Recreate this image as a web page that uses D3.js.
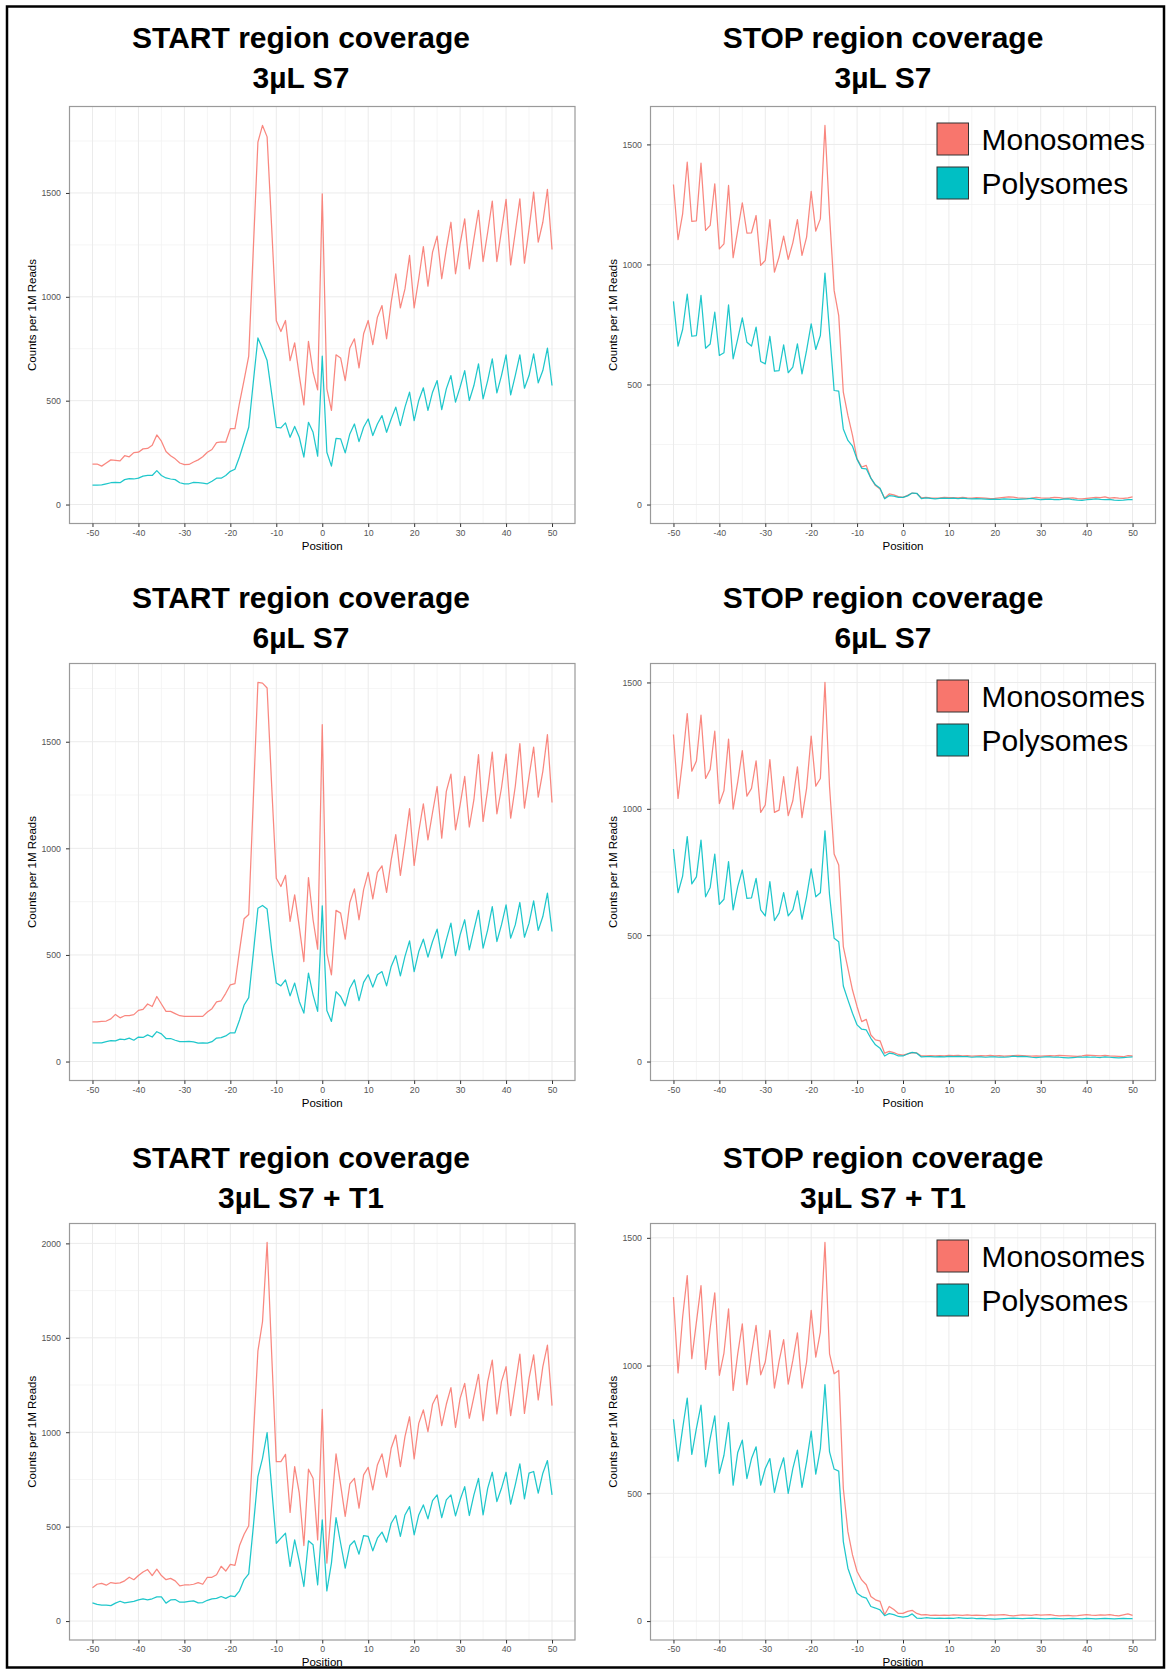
<!DOCTYPE html>
<html><head><meta charset="utf-8">
<script src="https://cdn.jsdelivr.net/npm/d3@7"></script>
<style>
body{margin:0;background:#fff}
svg{display:block}
text{font-family:"Liberation Sans",Arial,Helvetica,sans-serif}
</style>
</head><body>
<svg id="chart" width="1166" height="1670"></svg>
<script>
// ---------------- data ----------------
const positions = d3.range(-50, 51);           // nucleotide position -50..50
const xTickValues = [-50, -40, -30, -20, -10, 0, 10, 20, 30, 40, 50];
const xMinorValues = [-45, -35, -25, -15, -5, 5, 15, 25, 35, 45];
const yTickValues = [0, 500, 1000, 1500, 2000];
const yMinorValues = [250, 750, 1250, 1750];
const seriesNames = ["Monosomes", "Polysomes"];
const seriesColors = ["#F8766D", "#00BFC4"];

// START 3uL S7
const start3Mono = [
 195,195,185,200,215,213,210,235,230,250,
 252,268,270,285,335,305,255,235,220,200,
 192,193,205,215,230,252,265,298,302,300,
 365,365,490,600,715,1230,1745,1825,1770,1330,
 885,833,886,693,778,621,480,786,637,552,
 1496,557,453,721,706,597,754,798,658,822,
 886,770,902,958,798,974,1111,947,1038,1199,
 947,1087,1242,1051,1215,1292,1087,1231,1359,1111,
 1255,1375,1135,1279,1416,1170,1311,1461,1170,1319,
 1469,1154,1311,1472,1162,1327,1504,1263,1359,1517,1228];
const start3Poly = [
 93,93,95,100,105,107,105,120,125,123,
 127,137,140,140,163,140,128,123,120,105,
 100,100,107,105,103,100,112,127,127,140,
 160,170,230,300,372,590,802,750,693,533,
 372,369,393,324,376,324,228,396,348,233,
 714,252,185,319,316,249,340,388,303,372,
 412,332,388,428,348,412,469,380,469,541,
 404,501,562,453,541,597,457,557,621,493,
 565,645,501,573,677,509,597,701,538,621,
 721,528,621,721,560,621,725,586,645,753,573];

// STOP 3uL S7
const stop3Mono = [
 1333,1103,1211,1426,1179,1182,1422,1142,1163,1336,
 1065,1086,1329,1028,1142,1257,1131,1132,1204,996,
 1017,1187,968,1031,1118,1021,1090,1187,1038,1114,
 1304,1139,1190,1579,1204,892,787,468,371,288,
 190,156,163,110,79,65,26,44,40,33,
 30,38,48,46,28,30,28,27,28,30,
 29,29,28,30,28,27,29,28,27,25,
 26,28,30,32,31,28,27,26,27,30,
 28,27,28,30,29,26,27,28,25,24,
 26,28,30,29,32,27,29,27,26,28,32];
const stop3Poly = [
 846,660,729,876,701,704,871,651,669,801,
 621,632,832,607,690,778,676,660,739,596,
 586,701,556,558,665,549,572,669,544,642,
 753,646,704,964,718,475,472,315,267,243,
 188,151,149,110,82,68,24,37,35,30,
 30,36,48,47,25,28,26,24,26,27,
 26,27,25,27,25,24,25,24,23,22,
 23,22,24,23,22,22,23,24,26,23,
 20,22,23,21,20,23,24,20,18,17,
 20,22,24,22,21,22,18,17,18,20,21];

// START 6uL S7
const start6Mono = [
 186,186,188,190,200,221,205,215,215,220,
 240,245,270,258,305,270,235,235,225,215,
 212,212,212,212,212,232,248,280,285,320,
 360,365,520,670,690,1230,1778,1775,1752,1290,
 860,821,873,657,782,633,469,863,665,527,
 1580,508,407,709,696,574,746,810,665,806,
 887,763,887,918,793,946,1064,873,1024,1186,
 920,1079,1209,1040,1168,1290,1048,1267,1348,1087,
 1204,1337,1100,1228,1439,1126,1275,1451,1162,1283,
 1442,1142,1290,1491,1189,1337,1475,1240,1361,1533,1215];
const start6Poly = [
 88,88,88,93,98,97,105,103,110,100,
 115,113,125,115,140,130,108,108,100,93,
 93,95,92,86,88,86,93,110,112,120,
 135,135,195,265,300,508,719,732,715,524,
 368,355,383,308,368,282,227,415,313,235,
 730,239,188,328,305,261,344,383,286,371,
 407,349,407,422,355,446,497,402,493,566,
 422,516,574,490,563,621,485,571,649,497,
 594,665,524,618,709,532,618,727,563,641,
 735,579,641,746,583,649,754,615,680,790,610];

// STOP 6uL S7
const stop6Mono = [
 1294,1041,1193,1377,1149,1189,1371,1120,1156,1307,
 1021,1072,1276,999,1107,1230,1050,1081,1190,986,
 1015,1195,986,995,1127,973,1032,1166,965,1081,
 1288,1090,1120,1500,1087,821,778,455,369,283,
 217,158,167,105,86,82,33,40,35,28,
 25,30,35,34,22,22,23,22,23,22,
 24,23,24,22,23,21,22,23,22,24,
 22,23,21,22,23,24,23,22,21,22,
 21,22,23,22,24,23,22,21,20,22,
 25,24,23,22,24,22,21,20,19,23,22];
const stop6Poly = [
 841,668,734,890,703,731,876,652,689,821,
 622,642,791,600,692,758,646,648,725,600,
 576,712,558,587,668,576,600,675,563,652,
 762,652,668,913,659,488,474,299,244,191,
 145,128,125,92,66,53,22,33,30,22,
 22,30,36,33,18,19,19,18,19,18,
 20,19,20,19,19,17,18,18,17,18,
 18,17,17,18,21,19,20,19,17,16,
 17,18,18,17,17,16,15,16,17,17,
 18,17,17,16,18,17,16,15,16,17,18];

// START 3uL S7 + T1
const startT1Mono = [
 176,195,200,190,204,200,202,213,232,219,
 241,260,273,241,275,241,219,226,213,186,
 191,191,195,204,195,232,232,245,290,265,
 300,295,400,460,505,970,1430,1585,2005,1410,
 844,844,883,575,818,677,400,804,756,430,
 1121,307,598,885,721,554,726,756,598,774,
 814,695,827,885,762,915,985,818,977,1082,
 859,1047,1118,1003,1148,1197,1035,1148,1236,1026,
 1179,1259,1074,1188,1306,1061,1268,1382,1097,1268,
 1347,1088,1250,1414,1100,1285,1409,1171,1347,1461,1141];
const startT1Poly = [
 96,88,85,85,82,95,105,96,100,104,
 112,118,112,118,128,128,95,112,114,100,
 100,104,107,96,98,110,118,120,130,120,
 133,130,160,220,250,500,765,862,998,703,
 412,439,465,289,430,316,183,425,404,192,
 536,160,307,548,412,280,400,425,354,453,
 448,372,439,471,418,518,559,448,562,606,
 457,562,615,541,638,668,548,642,668,557,
 642,712,559,668,756,562,703,788,633,703,
 788,619,721,832,647,783,792,677,783,850,668];

// STOP 3uL S7 + T1
const stopT1Mono = [
 1268,971,1190,1352,1027,1170,1313,985,1147,1285,
 962,1049,1222,903,1046,1163,925,1046,1157,964,
 1014,1138,912,1016,1102,927,1020,1128,912,1014,
 1216,1033,1131,1482,1046,968,981,519,350,259,
 194,161,142,96,83,77,25,57,45,30,
 30,38,42,30,24,25,22,23,22,23,
 22,24,23,22,24,22,23,22,21,24,
 23,24,25,22,20,22,24,23,22,25,
 23,24,25,22,20,21,22,20,21,23,
 25,23,22,24,23,25,22,20,24,28,22];
const stopT1Poly = [
 790,626,754,873,652,754,845,604,715,803,
 578,649,777,532,660,708,558,636,682,532,
 597,636,504,584,639,500,597,669,523,623,
 743,575,675,925,662,595,587,311,207,155,
 109,96,90,57,51,44,21,29,25,18,
 15,18,28,12,11,13,12,11,12,11,
 12,11,13,12,11,12,10,11,10,9,
 8,9,10,11,12,11,10,11,12,11,
 10,9,10,11,10,9,10,11,10,9,
 11,10,9,10,11,10,9,10,11,10,10];

const panels = [
  {title: ["START region coverage", "3µL S7"],      series: [start3Mono, start3Poly],   col: 0, row: 0, legend: false},
  {title: ["STOP region coverage",  "3µL S7"],      series: [stop3Mono, stop3Poly],     col: 1, row: 0, legend: true},
  {title: ["START region coverage", "6µL S7"],      series: [start6Mono, start6Poly],   col: 0, row: 1, legend: false},
  {title: ["STOP region coverage",  "6µL S7"],      series: [stop6Mono, stop6Poly],     col: 1, row: 1, legend: true},
  {title: ["START region coverage", "3µL S7 + T1"], series: [startT1Mono, startT1Poly], col: 0, row: 2, legend: false},
  {title: ["STOP region coverage",  "3µL S7 + T1"], series: [stopT1Mono, stopT1Poly],   col: 1, row: 2, legend: true}
];

// ---------------- layout ----------------
const colX = [[69.5, 575], [650.5, 1155.5]];
const rowY = [[106.5, 523.5], [663.5, 1080.5], [1223.5, 1640]];
const titleBase = [[48, 87.5], [608, 647.5], [1167.5, 1208]];
const titleCx = [301, 883];

const svg = d3.select("#chart");
svg.append("rect").attr("width", 1166).attr("height", 1670).attr("fill", "#fff");

panels.forEach(p => {
  const [x0, x1] = colX[p.col];
  const [y0, y1] = rowY[p.row];
  const maxV = d3.max(p.series.flat());
  const x = d3.scaleLinear().domain([-55, 55]).range([x0, x1]);
  const y = d3.scaleLinear().domain([-0.05 * maxV, 1.05 * maxV]).range([y1, y0]);
  const g = svg.append("g");

  const yT = yTickValues.filter(v => v <= y.domain()[1]);
  const yM = yMinorValues.filter(v => v <= y.domain()[1]);

  // grid
  g.selectAll(".xm").data(xMinorValues).join("line")
    .attr("x1", d => x(d)).attr("x2", d => x(d)).attr("y1", y0).attr("y2", y1)
    .attr("stroke", "#F2F2F2").attr("stroke-width", 0.8);
  g.selectAll(".ym").data(yM).join("line")
    .attr("x1", x0).attr("x2", x1).attr("y1", d => y(d)).attr("y2", d => y(d))
    .attr("stroke", "#F2F2F2").attr("stroke-width", 0.8);
  g.selectAll(".xg").data(xTickValues).join("line")
    .attr("x1", d => x(d)).attr("x2", d => x(d)).attr("y1", y0).attr("y2", y1)
    .attr("stroke", "#EBEBEB").attr("stroke-width", 1);
  g.selectAll(".yg").data(yT).join("line")
    .attr("x1", x0).attr("x2", x1).attr("y1", d => y(d)).attr("y2", d => y(d))
    .attr("stroke", "#EBEBEB").attr("stroke-width", 1);

  // lines
  const line = d3.line().x((d, i) => x(positions[i])).y(d => y(d));
  p.series.forEach((s, k) => {
    g.append("path").datum(s).attr("d", line)
      .attr("fill", "none").attr("stroke", seriesColors[k]).attr("stroke-opacity", 0.88)
      .attr("stroke-width", 1.25).attr("stroke-linejoin", "round");
  });

  // border
  g.append("rect").attr("x", x0).attr("y", y0).attr("width", x1 - x0).attr("height", y1 - y0)
    .attr("fill", "none").attr("stroke", "#9a9a9a").attr("stroke-width", 1.2);

  // x axis
  const xa = g.append("g").attr("transform", `translate(0,${y1})`)
    .call(d3.axisBottom(x).tickValues(xTickValues).tickSize(3.5).tickSizeOuter(0).tickPadding(2.5).tickFormat(d => String(d)));
  xa.select(".domain").remove();
  xa.selectAll("line").attr("stroke", "#333");
  xa.selectAll("text").attr("fill", "#555").attr("font-size", 8.8)
    .attr("font-family", '"Liberation Sans",Arial,sans-serif');

  // y axis
  const ya = g.append("g").attr("transform", `translate(${x0},0)`)
    .call(d3.axisLeft(y).tickValues(yT).tickSize(3.5).tickSizeOuter(0).tickPadding(5).tickFormat(d => String(d)));
  ya.select(".domain").remove();
  ya.selectAll("line").attr("stroke", "#333");
  ya.selectAll("text").attr("fill", "#555").attr("font-size", 8.8)
    .attr("font-family", '"Liberation Sans",Arial,sans-serif');

  // axis titles
  g.append("text").attr("x", (x0 + x1) / 2).attr("y", y1 + 26)
    .attr("text-anchor", "middle").attr("font-size", 11.5).attr("fill", "#000").text("Position");
  g.append("text")
    .attr("transform", `translate(${x0 - 37.5},${(y0 + y1) / 2}) rotate(-90)`)
    .attr("text-anchor", "middle").attr("dominant-baseline", "central")
    .attr("font-size", 11.5).attr("fill", "#000").text("Counts per 1M Reads");

  // titles
  p.title.forEach((t, k) => {
    g.append("text").attr("x", titleCx[p.col]).attr("y", titleBase[p.row][k])
      .attr("text-anchor", "middle").attr("font-size", 30).attr("font-weight", "bold")
      .attr("fill", "#000").text(t);
  });

  // legend
  if (p.legend) {
    seriesNames.forEach((name, k) => {
      const ky = y0 + 16.5 + k * 44;
      g.append("rect").attr("x", 937).attr("y", ky).attr("width", 31.5).attr("height", 32)
        .attr("fill", seriesColors[k]).attr("stroke", "#333").attr("stroke-width", 1);
      g.append("text").attr("x", 981.5).attr("y", ky + 27)
        .attr("font-size", 30).attr("fill", "#000").text(name);
    });
  }
});

// outer frame
svg.append("rect").attr("x", 7).attr("y", 6.5).attr("width", 1157).attr("height", 1661)
  .attr("fill", "none").attr("stroke", "#000").attr("stroke-width", 2.5);
</script>
</body></html>
